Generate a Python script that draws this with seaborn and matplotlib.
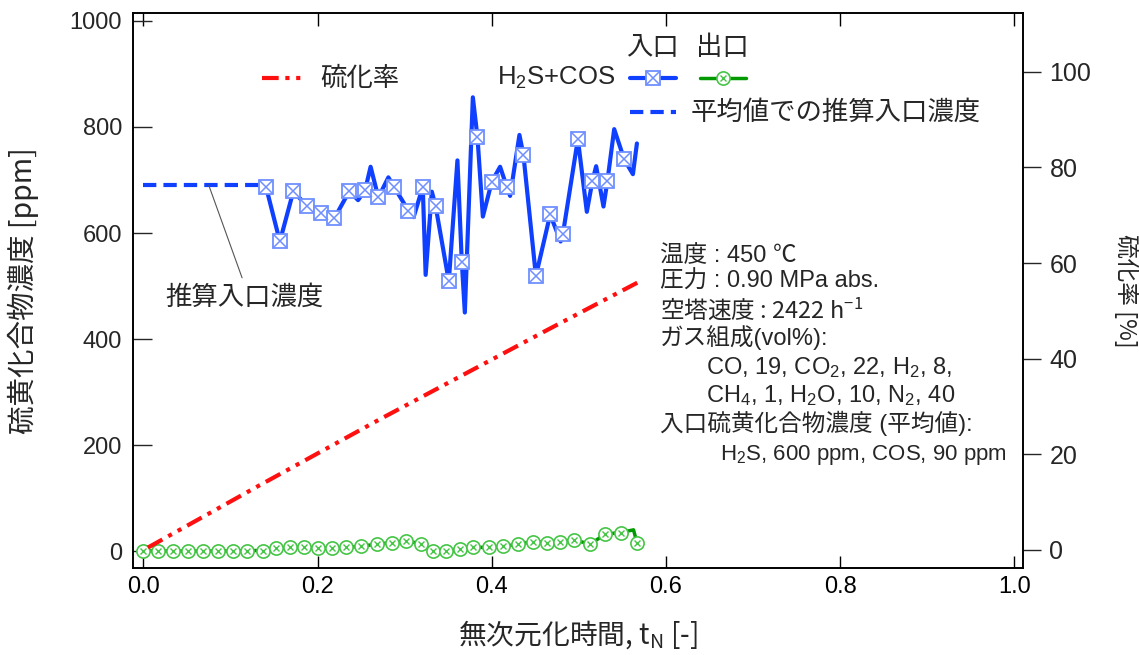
import matplotlib
matplotlib.use("Agg")
import matplotlib.pyplot as plt
import seaborn as sns

# inlet H2S+COS [ppm] (line points; markers on a subset)
in_x = [0.1407, 0.1566, 0.1721, 0.1875, 0.2039, 0.2192, 0.2364, 0.2464, 0.2545, 0.2608,
        0.2697, 0.2812, 0.2878, 0.3042, 0.3102, 0.3207, 0.3240, 0.3311, 0.3354, 0.3506,
        0.3605, 0.3655, 0.3690, 0.3782, 0.3835, 0.3897, 0.4000, 0.4095, 0.4172, 0.4210,
        0.4317, 0.4363, 0.4506, 0.4670, 0.4790, 0.4816, 0.4988, 0.5091, 0.5156, 0.5198,
        0.5282, 0.5328, 0.5405, 0.5520, 0.5620, 0.5666]
in_ppm = [687, 584, 679, 651, 637, 628, 679, 662, 681, 725,
          667, 705, 687, 642, 630, 687, 521, 678, 651, 509,
          737, 546, 450, 856, 781, 631, 697, 725, 687, 670,
          785, 747, 519, 635, 584, 598, 777, 640, 699, 726,
          650, 699, 796, 739, 711, 769]
in_mark_idx = [0, 1, 2, 3, 4, 5, 6, 8, 10, 12, 13, 15, 18, 19, 21, 24, 26, 28, 31, 32,
               33, 35, 36, 38, 41, 43]

# estimated inlet concentration from the average
est_x = [0.0, 0.1407]
est_ppm = [690, 690]

# outlet H2S+COS [ppm]
out_x = [0.0000, 0.0170, 0.0335, 0.0515, 0.0680, 0.0852, 0.1025, 0.1192, 0.1369, 0.1522,
         0.1683, 0.1844, 0.2008, 0.2162, 0.2326, 0.2495, 0.2679, 0.2851, 0.3016, 0.3184,
         0.3322, 0.3475, 0.3636, 0.3789, 0.3972, 0.4133, 0.4306, 0.4478, 0.4632, 0.4785,
         0.4949, 0.5129, 0.5302, 0.5482, 0.5627, 0.5666]
out_ppm = [1, 0, 0, 0, 0, 0, 0, 1, 1, 5,
           7, 7, 5, 5, 7, 9, 13, 16, 19, 14,
           1, 1, 3, 7, 7, 9, 13, 18, 16, 18,
           21, 13, 32, 35, 40, 16]
out_nomark_idx = [34]

# sulfidation ratio [%]
rate_x = [0.005, 0.13, 0.27, 0.4635, 0.567]
rate_pct = [0.5, 13.2, 27.2, 46.0, 55.9]

# axis ticks
x_ticks = [0.0, 0.2, 0.4, 0.6, 0.8, 1.0]
x_ticklabels = ["0.0", "0.2", "0.4", "0.6", "0.8", "1.0"]
ppm_ticks = [0, 200, 400, 600, 800, 1000]
pct_ticks = [0, 20, 40, 60, 80, 100]

BLUE = "#1040ff"
BLUE_M = "#7090ff"
GREEN = "#009a00"
GREEN_M = "#45c545"
RED = "#ff1010"
LATIN = "Liberation Sans"
MIXED = ["Liberation Sans", "Noto Sans CJK JP"]

sns.set_theme(style="ticks")
plt.rcParams["font.family"] = ["Noto Sans CJK JP", "DejaVu Sans"]
plt.rcParams["mathtext.default"] = "regular"

fig = plt.figure(figsize=(11.39, 6.55), dpi=100)
ax = fig.add_axes([0.1168, 0.1328, 0.7814, 0.8473])
ax2 = ax.twinx()

# lines
sns.lineplot(x=est_x, y=est_ppm, ax=ax, color=BLUE, lw=3, linestyle=(0, (3.2, 1.7)), sort=False)
sns.lineplot(x=in_x, y=in_ppm, ax=ax, color=BLUE, lw=3, sort=False)
sns.lineplot(x=out_x, y=out_ppm, ax=ax, color=GREEN, lw=2.5, sort=False)
sns.lineplot(x=rate_x, y=rate_pct, ax=ax2, color=RED, lw=3,
             linestyle=(0, (4, 1.6, 1, 1.6, 1, 1.6)), sort=False)

# markers
mx = [in_x[i] for i in in_mark_idx]
my = [in_ppm[i] for i in in_mark_idx]
ax.plot(mx, my, ls="none", marker="s", ms=9.5, mfc="white", mec=BLUE_M, mew=1.3, zorder=4)
ax.plot(mx, my, ls="none", marker="x", ms=9.5, mec=BLUE_M, mew=1.1, zorder=5)
gx = [v for i, v in enumerate(out_x) if i not in out_nomark_idx]
gy = [v for i, v in enumerate(out_ppm) if i not in out_nomark_idx]
ax.plot(gx, gy, ls="none", marker="o", ms=9.5, mfc="white", mec=GREEN_M, mew=1.2, zorder=4)
ax.plot(gx, gy, ls="none", marker="x", ms=4.5, mec=GREEN_M, mew=1.0, zorder=5)

# axes
ax.set_xlim(-0.012, 1.010)
ax.set_ylim(-32, 1015)
ax2.set_ylim(-3.77, 112.3)
ax.set_xticks(x_ticks)
ax.set_xticklabels(x_ticklabels, fontsize=17, family=LATIN)
ax.set_yticks(ppm_ticks)
ax.set_yticklabels([str(v) for v in ppm_ticks], fontsize=17, family=LATIN)
ax2.set_yticks(pct_ticks)
ax2.set_yticklabels([str(v) for v in pct_ticks], fontsize=18, family=LATIN)
ax.tick_params(axis="x", direction="in", top=True, bottom=True, length=9, width=1,
               pad=6, colors="black")
ax.tick_params(axis="y", direction="in", left=True, right=False, length=14, width=1, pad=8)
ax2.tick_params(axis="y", direction="out", length=13, width=1, pad=6)
for a in (ax, ax2):
    for s in a.spines.values():
        s.set_color("black")
        s.set_linewidth(1.2)

ax.set_xlabel("無次元化時間, t$_N$ [-]", fontsize=20, labelpad=14)
ax.set_ylabel("硫黄化合物濃度 [ppm]", fontsize=20.5, labelpad=22)
ax2.set_ylabel("硫化率 [%]", fontsize=17, rotation=270, labelpad=34)

# annotation of the estimated inlet line
ax.annotate("推算入口濃度", xy=(0.075, 690), xycoords="data",
            xytext=(0.036, 0.488), textcoords="axes fraction", fontsize=19,
            va="center", ha="left",
            arrowprops=dict(arrowstyle="-", color="#555555", lw=0.8,
                            relpos=(0.5, 1.0), shrinkA=2, shrinkB=0))

# legend (hand-built)
T = ax.transAxes
ax.add_line(plt.Line2D([0.145, 0.193], [0.883, 0.883], transform=T, color=RED, lw=3,
                       linestyle=(0, (4, 1.6, 1, 1.6, 1, 1.6))))
ax.text(0.210, 0.883, "硫化率", transform=T, fontsize=19, va="center", ha="left")
ax.text(0.5416, 0.883, "H$_2$S+COS", transform=T, fontsize=18.5, va="center", ha="right",
        family=LATIN)
ax.text(0.584, 0.937, "入口", transform=T, fontsize=19, va="center", ha="center")
ax.text(0.662, 0.937, "出口", transform=T, fontsize=19, va="center", ha="center")
ax.add_line(plt.Line2D([0.558, 0.610], [0.883, 0.883], transform=T, color=BLUE, lw=3))
ax.plot([0.584], [0.883], transform=T, marker="s", ms=9.5, mfc="white", mec=BLUE_M, mew=1.3)
ax.plot([0.584], [0.883], transform=T, marker="x", ms=9.5, mec=BLUE_M, mew=1.1)
ax.add_line(plt.Line2D([0.637, 0.689], [0.883, 0.883], transform=T, color=GREEN, lw=2.5))
ax.plot([0.663], [0.883], transform=T, marker="o", ms=9.5, mfc="white", mec=GREEN_M, mew=1.2)
ax.plot([0.663], [0.883], transform=T, marker="x", ms=4.5, mec=GREEN_M, mew=1.0)
ax.add_line(plt.Line2D([0.558, 0.610], [0.822, 0.822], transform=T, color=BLUE, lw=3,
                       linestyle=(0, (3.2, 1.7))))
ax.text(0.626, 0.822, "平均値での推算入口濃度", transform=T, fontsize=19, va="center", ha="left")

# conditions text
cond = [
    ("温度 : 450 ℃", 0.592, 0.5515, MIXED, 17),
    ("圧力 : 0.90 MPa abs.", 0.592, 0.5045, MIXED, 17),
    ("空塔速度 : 2422 h$^{-1}$", 0.592, 0.4505, ["Noto Sans CJK JP"], 17),
    ("ガス組成(vol%):", 0.592, 0.4020, MIXED, 17),
    ("CO, 19, CO$_2$, 22, H$_2$, 8,", 0.644, 0.3495, [LATIN], 17),
    ("CH$_4$, 1, H$_2$O, 10, N$_2$, 40", 0.644, 0.2990, [LATIN], 17),
    ("入口硫黄化合物濃度 (平均値):", 0.592, 0.2470, MIXED, 17),
    ("H$_2$S, 600 ppm, COS, 90 ppm", 0.660, 0.1945, [LATIN], 16),
]
for s, x, y, fam, fs in cond:
    ax.text(x, y, s, transform=T, fontsize=fs, va="baseline", ha="left", family=fam)

plt.savefig("out.png", dpi=100)
